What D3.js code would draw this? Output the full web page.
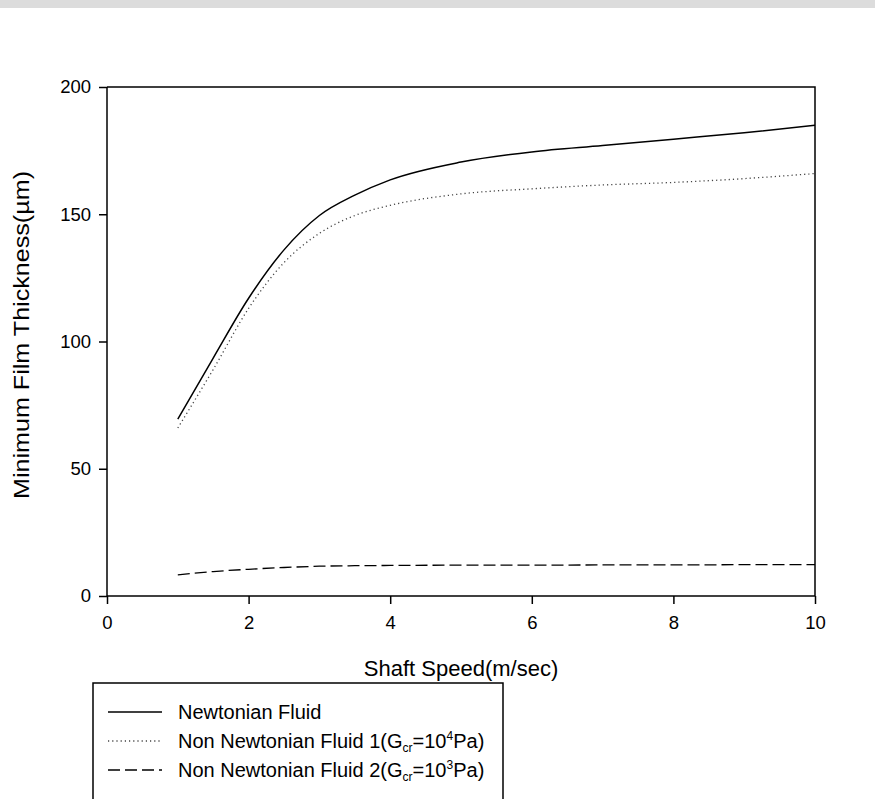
<!DOCTYPE html>
<html>
<head>
<meta charset="utf-8">
<script src="https://cdn.jsdelivr.net/npm/d3@7"></script>
<style>
  body { margin: 0; background: #fff; }
  svg { display: block; font-family: "Liberation Sans", Arial, sans-serif; }
</style>
</head>
<body>
<svg id="chart" width="875" height="799"></svg>
<script>
// shaft speed (m/sec)
var speeds = [1, 1.5, 2, 2.5, 3, 3.5, 4, 5, 6, 7, 8, 9, 10];
// minimum film thickness (um)
var newtonian = [69.5, 93.5, 117, 136, 149.5, 157.5, 163.5, 170.5, 174.5, 177, 179.5, 182, 185];
var nonNewt1  = [66, 89, 113, 131, 142.5, 149.5, 153.5, 158, 160, 161.5, 162.5, 164, 166];
var nonNewt2  = [8.3, 9.6, 10.5, 11.2, 11.7, 11.9, 12, 12.1, 12.1, 12.2, 12.2, 12.3, 12.3];
var xTicks = [0, 2, 4, 6, 8, 10];
var yTicks = [0, 50, 100, 150, 200];

var svg = d3.select("#chart");

// faint background band from the source page
svg.append("rect").attr("x", 0).attr("y", 0).attr("width", 875).attr("height", 8).attr("fill", "#dcdcdc");

var plotLeft = 107, plotRight = 815, plotTop = 87, plotBottom = 596;

var x = d3.scaleLinear().domain([0, 10]).range([plotLeft, plotRight]);
var y = d3.scaleLinear().domain([0, 200]).range([plotBottom, plotTop]);

// frame (top and right)
svg.append("path")
    .attr("d", "M" + plotLeft + "," + plotTop + "H" + plotRight + "V" + plotBottom)
    .attr("fill", "none").attr("stroke", "#000").attr("stroke-width", 1.5);

var xAxis = svg.append("g")
    .attr("transform", "translate(0," + plotBottom + ")")
    .call(d3.axisBottom(x).tickValues(xTicks).tickSize(8).tickPadding(12).tickFormat(d3.format("d")));

var yAxis = svg.append("g")
    .attr("transform", "translate(" + plotLeft + ",0)")
    .call(d3.axisLeft(y).tickValues(yTicks).tickSize(8).tickPadding(8).tickFormat(d3.format("d")));

[xAxis, yAxis].forEach(function (g) {
    g.attr("font-size", 18.5).attr("font-family", "Liberation Sans, Arial, sans-serif");
    g.select(".domain").attr("stroke-width", 1.5);
    g.selectAll(".tick line").attr("stroke-width", 1.5);
    g.selectAll(".tick text").attr("fill", "#000");
});
xAxis.select(".domain").attr("d", "M" + plotLeft + ",0H" + plotRight);
yAxis.select(".domain").attr("d", "M0," + plotTop + "V" + plotBottom);

svg.append("text")
    .attr("x", 461).attr("y", 676)
    .attr("text-anchor", "middle").attr("font-size", 22)
    .text("Shaft Speed(m/sec)");

svg.append("text")
    .attr("transform", "translate(29,335) rotate(-90)")
    .attr("text-anchor", "middle").attr("font-size", 22)
    .attr("textLength", 328).attr("lengthAdjust", "spacingAndGlyphs")
    .text("Minimum Film Thickness(\u00b5m)");

var series = [
    {values: newtonian, dash: null, width: 1.5, color: "#000"},
    {values: nonNewt1, dash: "1.2,3", width: 1.3, color: "#444"},
    {values: nonNewt2, dash: "12,5", width: 1.3, color: "#000"}
];

var line = d3.line()
    .x(function (d) { return x(d[0]); })
    .y(function (d) { return y(d[1]); })
    .curve(d3.curveMonotoneX);

svg.selectAll(".series")
    .data(series)
    .enter().append("path")
    .attr("class", "series")
    .attr("fill", "none")
    .attr("stroke", function (d) { return d.color; })
    .attr("stroke-width", function (d) { return d.width; })
    .attr("stroke-dasharray", function (d) { return d.dash; })
    .attr("d", function (d) {
        return line(speeds.map(function (s, i) { return [s, d.values[i]]; }));
    });

// legend
var legend = svg.append("g");
legend.append("path")
    .attr("d", "M93,800V683H503V800")
    .attr("fill", "none").attr("stroke", "#000").attr("stroke-width", 1.5);

var legendRows = [
    {label: ["Newtonian Fluid"], s: series[0]},
    {label: ["Non Newtonian Fluid 1(G", "cr", "=10", "4", "Pa)"], s: series[1]},
    {label: ["Non Newtonian Fluid 2(G", "cr", "=10", "3", "Pa)"], s: series[2]}
];

legendRows.forEach(function (r, i) {
    var yy = 712 + i * 29;
    legend.append("line")
        .attr("x1", 108).attr("x2", 162).attr("y1", yy).attr("y2", yy)
        .attr("stroke", r.s.color).attr("stroke-width", r.s.width)
        .attr("stroke-dasharray", r.s.dash);
    var t = legend.append("text").attr("x", 178).attr("y", yy + 7).attr("font-size", 20);
    r.label.forEach(function (part, j) {
        var ts = t.append("tspan").text(part);
        if (j === 1) ts.attr("font-size", 12).attr("dy", 4);
        if (j === 2) ts.attr("dy", -4);
        if (j === 3) ts.attr("font-size", 12).attr("dy", -8);
        if (j === 4) ts.attr("dy", 8);
    });
});
</script>
</body>
</html>
